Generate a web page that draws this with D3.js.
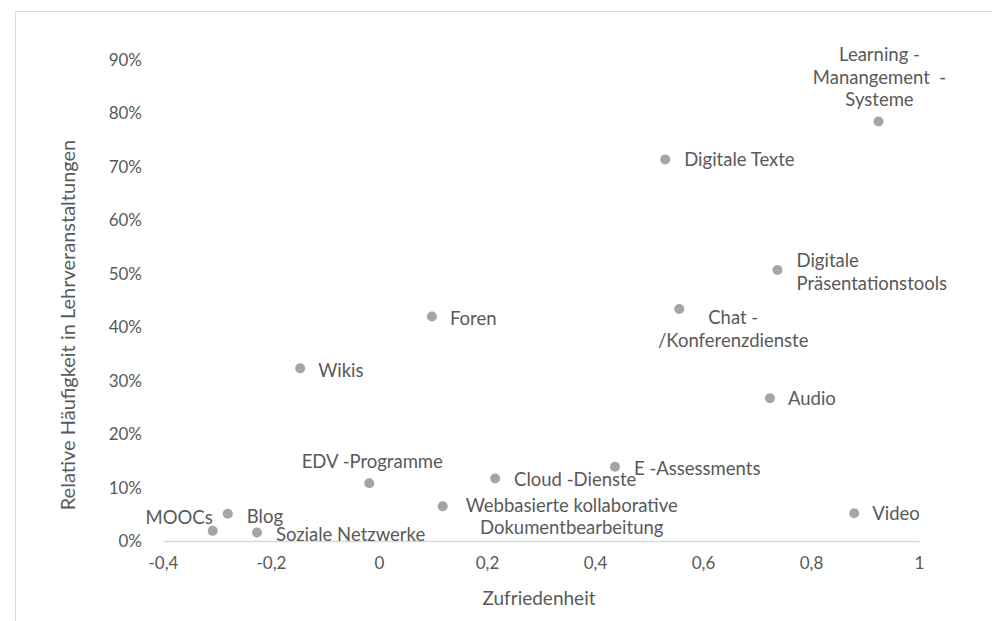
<!DOCTYPE html>
<html>
<head>
<meta charset="utf-8">
<script src="https://cdn.jsdelivr.net/npm/d3@7"></script>
<style>
  body { margin: 0; background: #fff; }
  svg text { font-family: "Lato", "Noto Sans", sans-serif; fill: #595959; }
</style>
</head>
<body>
<div id="chart"></div>
<script>
/* Scatter: Zufriedenheit vs. relative Häufigkeit digitaler Tools */

const tools = ["MOOCs", "Blog", "Soziale Netzwerke", "Wikis", "Foren", "EDV -Programme",
    "Webbasierte kollaborative Dokumentbearbeitung", "Cloud -Dienste", "E -Assessments",
    "Digitale Texte", "Chat -/Konferenzdienste", "Audio", "Digitale Präsentationstools",
    "Video", "Learning -Manangement -Systeme"];
const zufriedenheit = [-0.308, -0.280, -0.226, -0.146, 0.098, -0.018,
    0.118, 0.215, 0.437, 0.530, 0.556, 0.724, 0.738, 0.880, 0.925];
const haeufigkeit = [0.019, 0.051, 0.016, 0.323, 0.420, 0.108,
    0.065, 0.117, 0.139, 0.714, 0.434, 0.267, 0.507, 0.052, 0.785];
const xTicks = [-0.4, -0.2, 0, 0.2, 0.4, 0.6, 0.8, 1];
const yTicks = [0, 0.1, 0.2, 0.3, 0.4, 0.5, 0.6, 0.7, 0.8, 0.9];

// label placement (how Excel put them): lines, anchor, offsets from the dot
const labelLayout = {
    "MOOCs": { lines: ["MOOCs"], anchor: "end", dx: 0, dy: [-14] },
    "Blog": { lines: ["Blog"], anchor: "start", dx: 19, dy: [2] },
    "Soziale Netzwerke": { lines: ["Soziale Netzwerke"], anchor: "start", dx: 19, dy: [2] },
    "Wikis": { lines: ["Wikis"], anchor: "start", dx: 18, dy: [2] },
    "Foren": { lines: ["Foren"], anchor: "start", dx: 18, dy: [1] },
    "EDV -Programme": { lines: ["EDV -Programme"], anchor: "middle", dx: 3, dy: [-22] },
    "Webbasierte kollaborative Dokumentbearbeitung": { lines: ["Webbasierte kollaborative", "Dokumentbearbeitung"], anchor: "middle", dx: 129, dy: [-1, 21] },
    "Cloud -Dienste": { lines: ["Cloud -Dienste"], anchor: "start", dx: 19, dy: [1] },
    "E -Assessments": { lines: ["E -Assessments"], anchor: "start", dx: 19, dy: [1] },
    "Digitale Texte": { lines: ["Digitale Texte"], anchor: "start", dx: 19, dy: [0] },
    "Chat -/Konferenzdienste": { lines: ["Chat -", "/Konferenzdienste"], anchor: "middle", dx: 54, dy: [8, 31] },
    "Audio": { lines: ["Audio"], anchor: "start", dx: 18, dy: [0] },
    "Digitale Präsentationstools": { lines: ["Digitale", "Präsentationstools"], anchor: "start", dx: 19, dy: [-10, 13] },
    "Video": { lines: ["Video"], anchor: "start", dx: 18, dy: [0] },
    "Learning -Manangement -Systeme": { lines: ["Learning -", "Manangement  -", "Systeme"], anchor: "middle", dx: 1, dy: [-67, -44, -22] }
};

const data = tools.map((t, i) => ({ name: t, x: zufriedenheit[i], y: haeufigkeit[i] }));

const width = 992, height = 621;

let svg = d3.select("#chart")
    .append("svg")
    .attr("width", width)
    .attr("height", height);

// chart area frame (cut off at right / bottom like the screenshot)
svg.append("rect")
    .attr("x", 15.5).attr("y", 11.5)
    .attr("width", 1000).attr("height", 700)
    .attr("fill", "none")
    .attr("stroke", "#d9d9d9");

let x = d3.scaleLinear()
    .domain([-0.4, 1])
    .range([163, 919]);

let y = d3.scaleLinear()
    .domain([0, 0.9])
    .range([541, 60]);

// x axis: only the baseline + labels
let xAxis = svg.append("g")
    .attr("transform", `translate(0,${y(0)})`)
    .call(d3.axisBottom(x).tickValues(xTicks).tickSize(0).tickPadding(16)
        .tickFormat(d => d3.format("")(d).replace(".", ",").replace("−", "-")));
xAxis.select(".domain").attr("stroke", "#d9d9d9").attr("stroke-width", 1.5);
xAxis.selectAll("text").style("font-size", "17px").style("fill", "#595959");

let yAxis = svg.append("g")
    .attr("transform", `translate(${x(-0.4)},0)`)
    .call(d3.axisLeft(y).tickValues(yTicks).tickSize(0).tickPadding(21)
        .tickFormat(d3.format(".0%")));
yAxis.select(".domain").remove();
yAxis.selectAll("text").style("font-size", "17px").style("fill", "#595959");

// dots
svg.selectAll(".dot")
    .data(data)
    .join("circle")
    .attr("class", "dot")
    .attr("cx", d => x(d.x))
    .attr("cy", d => y(d.y))
    .attr("r", 5)
    .attr("fill", "#a5a5a5");

// data labels
let label = svg.selectAll(".label")
    .data(data)
    .join("text")
    .attr("class", "label")
    .attr("text-anchor", d => labelLayout[d.name].anchor)
    .attr("dominant-baseline", "central")
    .style("font-size", "18.5px");

label.each(function (d) {
    let l = labelLayout[d.name];
    d3.select(this).selectAll("tspan")
        .data(l.lines)
        .join("tspan")
        .attr("x", x(d.x) + l.dx)
        .attr("y", (s, i) => y(d.y) + l.dy[i])
        .style("white-space", "pre")
        .text(s => s);
});

// axis titles
svg.append("text")
    .attr("x", 539)
    .attr("y", 597)
    .attr("text-anchor", "middle")
    .attr("dominant-baseline", "central")
    .style("font-size", "19px")
    .text("Zufriedenheit");

svg.append("text")
    .attr("transform", "translate(67,325) rotate(-90)")
    .attr("text-anchor", "middle")
    .attr("dominant-baseline", "central")
    .style("font-size", "20px")
    .text("Relative Häufigkeit in Lehrveranstaltungen");
</script>
</body>
</html>
